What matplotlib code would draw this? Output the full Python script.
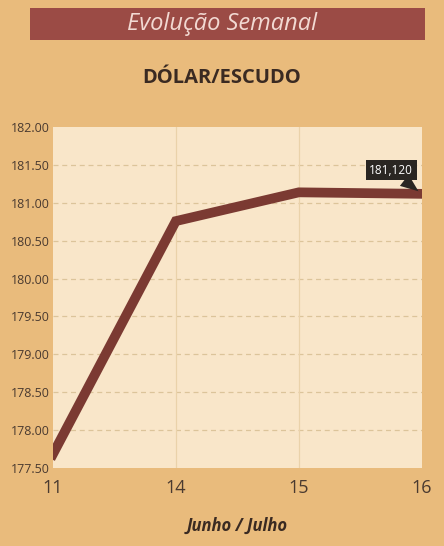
import numpy as np
import matplotlib
matplotlib.use('Agg')
import matplotlib.pyplot as plt
from matplotlib.patches import Rectangle

# data
dias = ['11', '14', '15', '16']
cotacao = [177.68, 180.76, 181.14, 181.12]
y_ticks = [177.5, 178.0, 178.5, 179.0, 179.5, 180.0, 180.5, 181.0, 181.5, 182.0]
ultimo_label = '181,120'

plt.rcParams['font.family'] = ['Open Sans', 'DejaVu Sans']

fig = plt.figure(figsize=(4.44, 5.46), dpi=100)
fig.patch.set_facecolor('#e9bb7c')

# banner
fig.patches.append(Rectangle((0.068, 0.927), 0.889, 0.059, transform=fig.transFigure,
                             facecolor='#9b4b45', edgecolor='none', zorder=0))
fig.text(0.5, 0.956, 'Evolução Semanal', ha='center', va='center', fontsize=17,
         style='italic', color='#f2d9d2')
fig.text(0.5, 0.857, 'DÓLAR/ESCUDO', ha='center', va='center', fontsize=14.5,
         fontweight='bold', color='#3a2a22')

ax = fig.add_axes([0.119, 0.143, 0.831, 0.624])
ax.set_facecolor('#f9e6c9')
x = np.arange(len(dias))
ax.plot(x, cotacao, color='#7b3a32', lw=7, solid_joinstyle='miter', zorder=3)

ax.set_xlim(0, len(dias) - 1)
ax.set_ylim(177.5, 182.0)
ax.set_xticks(x)
ax.set_xticklabels(dias, fontsize=13, color='#4a3a30')
ax.set_yticks(y_ticks)
ax.set_yticklabels(['%.2f' % v for v in y_ticks], fontsize=9, color='#4a3a30')
ax.tick_params(length=0, pad=2)
ax.tick_params(axis='x', pad=8)

for v in y_ticks[1:-1]:
    ax.axhline(v, color='#dcc49a', lw=0.9, ls=(0, (4, 3)), zorder=1)
for xi in x[1:-1]:
    ax.axvline(xi, color='#ead2aa', lw=0.9, zorder=1)
for s in ax.spines.values():
    s.set_visible(False)

ax.annotate(ultimo_label, xy=(x[-1], cotacao[-1]), xytext=(-22, 17),
            textcoords='offset points', ha='center', va='center',
            fontsize=8.5, color='white',
            bbox=dict(boxstyle='square,pad=0.3', fc='#2a2622', ec='none'),
            arrowprops=dict(arrowstyle='wedge,tail_width=1.2', fc='#2a2622', ec='none',
                            shrinkA=0, shrinkB=3),
            annotation_clip=False, zorder=5)

ax.set_xlabel('Junho / Julho', fontsize=12, fontweight='bold', style='italic',
              color='#3a2a22', labelpad=14)

fig.savefig('out.png', dpi=100, facecolor=fig.get_facecolor())
